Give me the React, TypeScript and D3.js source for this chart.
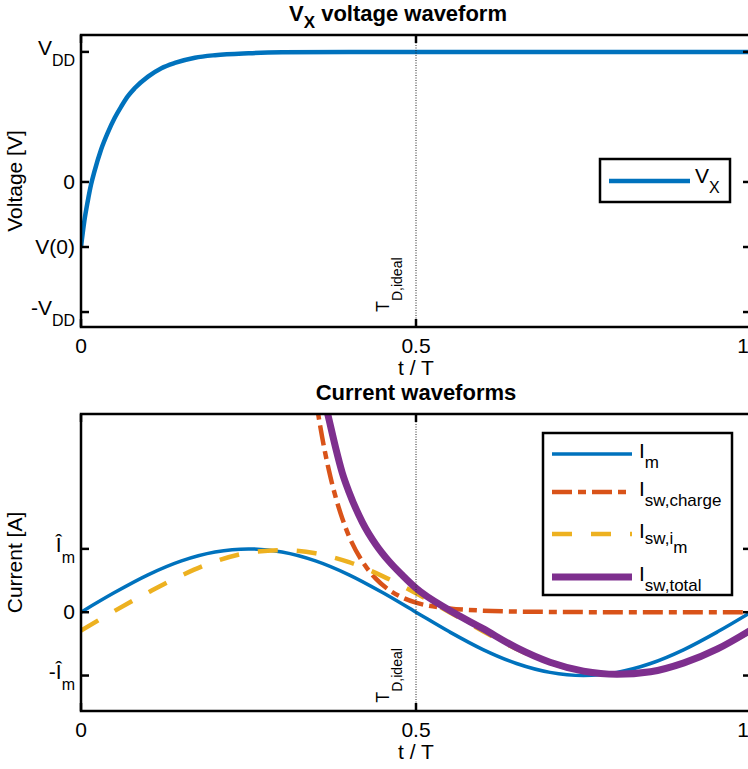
import { useEffect, useRef } from 'react';
import * as d3 from 'd3';

// V_X voltage waveform (t/T, V in units of VDD)
const vxT = [0, 0.005, 0.01, 0.015, 0.02, 0.03, 0.04, 0.05, 0.06, 0.07, 0.08, 0.1, 0.12, 0.14, 0.17, 0.2, 0.25, 0.3, 0.4, 0.5, 0.6, 0.7, 0.8, 0.9, 1.0];
const vxV = [-0.5, -0.3, -0.15, -0.02, 0.08, 0.25, 0.38, 0.49, 0.58, 0.66, 0.72, 0.81, 0.875, 0.915, 0.955, 0.975, 0.99, 0.997, 1, 1, 1, 1, 1, 1, 1];

// current waveforms (t/T, I in units of Î_m)
const imT = [0, 0.05, 0.1, 0.15, 0.2, 0.25, 0.3, 0.35, 0.4, 0.45, 0.5, 0.55, 0.6, 0.65, 0.7, 0.75, 0.8, 0.85, 0.9, 0.95, 1.0];
const imI = [0, 0.31, 0.59, 0.81, 0.95, 1, 0.95, 0.81, 0.59, 0.31, 0, -0.31, -0.59, -0.81, -0.95, -1, -0.95, -0.81, -0.59, -0.31, 0];

const chargeT = [0.34, 0.354, 0.36, 0.37, 0.38, 0.39, 0.4, 0.42, 0.44, 0.46, 0.48, 0.5, 0.55, 0.6, 0.65, 0.7, 0.8, 0.9, 1.0];
const chargeI = [4.2, 3.13, 2.76, 2.24, 1.82, 1.48, 1.2, 0.8, 0.53, 0.35, 0.23, 0.15, 0.06, 0.025, 0.01, 0.005, 0, 0, 0];

const swImT = [0, 0.05, 0.1, 0.15, 0.2, 0.25, 0.3, 0.35, 0.4, 0.45, 0.5, 0.55, 0.6, 0.65, 0.7, 0.75, 0.8, 0.85, 0.9, 0.95, 1.0];
const swImI = [-0.29, 0.02, 0.31, 0.58, 0.8, 0.94, 0.98, 0.93, 0.79, 0.57, 0.3, 0, -0.3, -0.58, -0.8, -0.94, -0.99, -0.94, -0.8, -0.58, -0.3];

const totalT = [0.36, 0.37, 0.38, 0.39, 0.4, 0.42, 0.44, 0.46, 0.48, 0.5, 0.55, 0.6, 0.65, 0.7, 0.75, 0.8, 0.85, 0.9, 0.95, 1.0];
const totalI = [3.5, 3.05, 2.6, 2.2, 1.9, 1.42, 1.07, 0.8, 0.58, 0.38, 0.03, -0.26, -0.56, -0.79, -0.93, -0.98, -0.94, -0.8, -0.58, -0.28];

// ticks
const xTicks = [0, 0.5, 1];
const xTickLabels = ['0', '0.5', '1'];
const vTicks = [-1, -0.5, 0, 1];
const vTickMain = ['-V', 'V(0)', '0', 'V'];
const vTickSub = ['DD', '', '', 'DD'];
const iTicks = [-1, 0, 1];
const iTickMain = ['-Î', '0', 'Î'];
const iTickSub = ['m', '', 'm'];

const tdLine = 0.5;
const tdLabelV = -1.0;
const tdLabelI = -1.43;

const C = { blue: '#0072BD', orange: '#D95319', yellow: '#EDB120', purple: '#7E2F8E' };
const FONT = '"Liberation Sans", Arial, Helvetica, sans-serif';

const App: React.FC = () => {
  const svgRef = useRef<SVGSVGElement | null>(null);

  useEffect(() => {
    if (svgRef.current === null) return;
    const svg = d3.select(svgRef.current);
    svg.selectAll('*').remove();

    const left = 81;
    const right = 751;
    const x = d3.scaleLinear().domain([0, 1]).range([left, right]);

    const yV = d3.scaleLinear().domain([-1.115, 1.13]).range([327, 35]);
    const yI = d3.scaleLinear().domain([-1.56, 3.13]).range([711, 414]);

    const defs = svg.append('defs');

    // eksen çizimi
    const drawAxes = (
      id: string,
      y: d3.ScaleLinear<number, number>,
      ticks: number[],
      mains: string[],
      subs: string[],
      titleX: number | null,
      ylabel: string,
      tdLabelVal: number,
    ) => {
      const [yb, yt] = y.range();
      defs
        .append('clipPath')
        .attr('id', id)
        .append('rect')
        .attr('x', left)
        .attr('y', yt)
        .attr('width', right - left)
        .attr('height', yb - yt);

      const g = svg.append('g');
      const plot = g.append('g').attr('clip-path', `url(#${id})`);

      // dotted T_D,ideal line
      g.append('line')
        .attr('x1', x(tdLine))
        .attr('x2', x(tdLine))
        .attr('y1', yt)
        .attr('y2', yb)
        .attr('stroke', '#222')
        .attr('stroke-width', 1)
        .attr('stroke-dasharray', '1,1.5');

      // T_D,ideal label
      const td = g
        .append('text')
        .attr('transform', `translate(${x(tdLine) - 27},${y(tdLabelVal)}) rotate(-90)`)
        .attr('font-family', FONT)
        .attr('font-size', 18)
        .attr('fill', '#000');
      td.append('tspan').text('T');
      td.append('tspan').attr('font-size', 14).attr('dy', 13).text('D,ideal');

      // box
      g.append('rect')
        .attr('x', left)
        .attr('y', yt)
        .attr('width', right - left)
        .attr('height', yb - yt)
        .attr('fill', 'none')
        .attr('stroke', '#000')
        .attr('stroke-width', 2.5);

      // x ticks
      xTicks.forEach((t, i) => {
        g.append('line').attr('x1', x(t)).attr('x2', x(t)).attr('y1', yb).attr('y2', yb - 8).attr('stroke', '#000').attr('stroke-width', 2.5);
        g.append('line').attr('x1', x(t)).attr('x2', x(t)).attr('y1', yt).attr('y2', yt + 8).attr('stroke', '#000').attr('stroke-width', 2.5);
        g.append('text')
          .attr('x', Math.min(x(t), 743))
          .attr('y', yb + 26)
          .attr('text-anchor', 'middle')
          .attr('font-family', FONT)
          .attr('font-size', 21)
          .text(xTickLabels[i]);
      });
      g.append('text')
        .attr('x', x(0.5))
        .attr('y', yb + 48)
        .attr('text-anchor', 'middle')
        .attr('font-family', FONT)
        .attr('font-size', 21)
        .text('t / T');

      // y ticks
      ticks.forEach((v, i) => {
        g.append('line').attr('x1', left).attr('x2', left + 8).attr('y1', y(v)).attr('y2', y(v)).attr('stroke', '#000').attr('stroke-width', 2.5);
        g.append('line').attr('x1', right).attr('x2', right - 8).attr('y1', y(v)).attr('y2', y(v)).attr('stroke', '#000').attr('stroke-width', 2.5);
        const txt = g
          .append('text')
          .attr('x', 75)
          .attr('y', y(v) + (subs[i] ? 3 : 7))
          .attr('text-anchor', 'end')
          .attr('font-family', FONT)
          .attr('font-size', 21);
        txt.append('tspan').text(mains[i]);
        if (subs[i]) txt.append('tspan').attr('font-size', 16).attr('dy', 11).text(subs[i]);
      });

      g.append('text')
        .attr('transform', `translate(22,${(yt + yb) / 2}) rotate(-90)`)
        .attr('text-anchor', 'middle')
        .attr('font-family', FONT)
        .attr('font-size', 21)
        .text(ylabel);

      // title
      const tt = g
        .append('text')
        .attr('x', titleX ?? (left + right) / 2)
        .attr('y', yt - 14)
        .attr('text-anchor', titleX === null ? 'middle' : 'start')
        .attr('font-family', FONT)
        .attr('font-weight', 'bold')
        .attr('font-size', 22);
      return { plot, tt };
    };

    const top = drawAxes('clipTop', yV, vTicks, vTickMain, vTickSub, 289, 'Voltage [V]', tdLabelV);
    top.tt.append('tspan').text('V');
    top.tt.append('tspan').attr('font-size', 17).attr('dy', 7).text('X');
    top.tt.append('tspan').attr('dy', -7).text(' voltage waveform');

    const bot = drawAxes('clipBot', yI, iTicks, iTickMain, iTickSub, null, 'Current [A]', tdLabelI);
    bot.tt.text('Current waveforms');

    const line = (y: d3.ScaleLinear<number, number>) =>
      d3
        .line<[number, number]>()
        .x((d) => x(d[0]))
        .y((d) => y(d[1]))
        .curve(d3.curveMonotoneX);

    const zip = (a: number[], b: number[]) => a.map((t, i) => [t, b[i]] as [number, number]);

    top.plot
      .append('path')
      .attr('d', line(yV)(zip(vxT, vxV)))
      .attr('fill', 'none')
      .attr('stroke', C.blue)
      .attr('stroke-width', 4.5);

    const series = [
      { t: imT, v: imI, color: C.blue, w: 3.5, dash: null, main: 'I', sub: 'm', sub2: '' },
      { t: chargeT, v: chargeI, color: C.orange, w: 4.5, dash: '20,6,8,6', main: 'I', sub: 'sw,charge', sub2: '' },
      { t: swImT, v: swImI, color: C.yellow, w: 4.5, dash: '20,19', main: 'I', sub: 'sw,i', sub2: 'm' },
      { t: totalT, v: totalI, color: C.purple, w: 7, dash: null, main: 'I', sub: 'sw,total', sub2: '' },
    ];

    series.forEach((s) => {
      bot.plot
        .append('path')
        .attr('d', line(yI)(zip(s.t, s.v)))
        .attr('fill', 'none')
        .attr('stroke', s.color)
        .attr('stroke-width', s.w)
        .attr('stroke-dasharray', s.dash);
    });

    // top legend
    const lg1 = svg.append('g');
    lg1.append('rect').attr('x', 600).attr('y', 159).attr('width', 130).attr('height', 43).attr('fill', '#fff').attr('stroke', '#000').attr('stroke-width', 2.5);
    lg1.append('line').attr('x1', 609).attr('x2', 690).attr('y1', 181).attr('y2', 181).attr('stroke', C.blue).attr('stroke-width', 4.5);
    const lt = lg1.append('text').attr('x', 695).attr('y', 183).attr('font-family', FONT).attr('font-size', 21);
    lt.append('tspan').text('V');
    lt.append('tspan').attr('font-size', 16).attr('dy', 10).text('X');

    // bottom legend
    const lg2 = svg.append('g');
    lg2.append('rect').attr('x', 543).attr('y', 433).attr('width', 189).attr('height', 162).attr('fill', '#fff').attr('stroke', '#000').attr('stroke-width', 2.5);
    const rows = [454, 492, 534, 577];
    series.forEach((s, i) => {
      const ly = rows[i];
      lg2.append('line')
        .attr('x1', 552)
        .attr('x2', 632)
        .attr('y1', ly)
        .attr('y2', ly)
        .attr('stroke', s.color)
        .attr('stroke-width', s.w)
        .attr('stroke-dasharray', s.dash);
      const t = lg2.append('text').attr('x', 639).attr('y', ly + 4).attr('font-family', FONT).attr('font-size', 21);
      t.append('tspan').text(s.main);
      t.append('tspan').attr('font-size', 17).attr('dy', s.sub2 ? 6 : 10).text(s.sub);
      if (s.sub2) t.append('tspan').attr('font-size', 17).attr('dy', 9).text(s.sub2);
    });
  }, []);

  return (
    <svg
      ref={svgRef}
      width={748}
      height={769}
      style={{ position: 'absolute', left: 0, top: 0, background: '#fff' }}
    ></svg>
  );
};

export default App;
